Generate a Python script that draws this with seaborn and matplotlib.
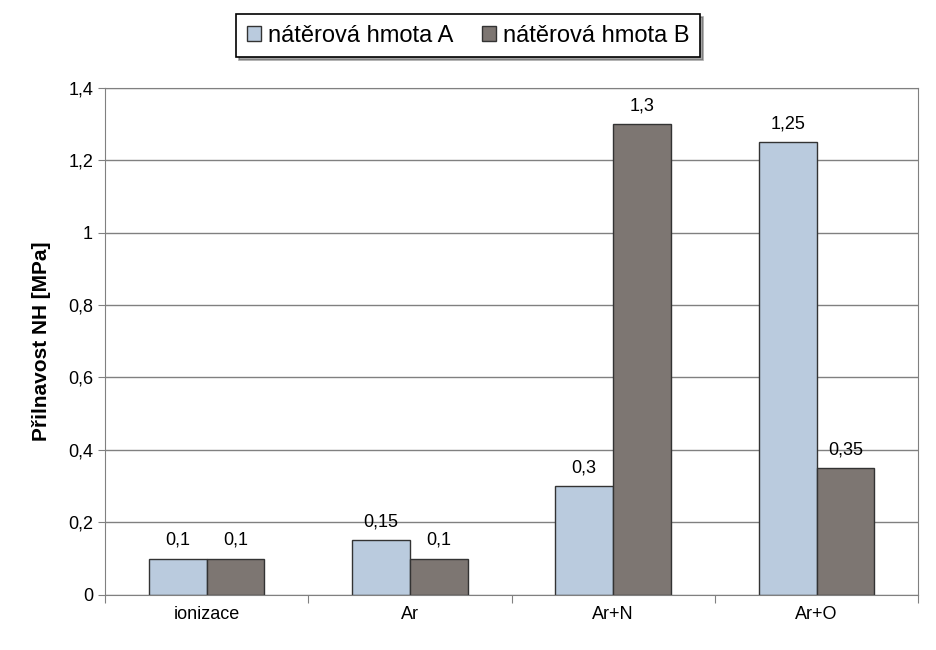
import matplotlib
matplotlib.use("Agg")
import matplotlib.pyplot as plt
import seaborn as sns
import pandas as pd
from matplotlib.ticker import FuncFormatter, FixedLocator

categories = ["ionizace", "Ar", "Ar+N", "Ar+O"]
series_a = [0.1, 0.15, 0.3, 1.25]
series_b = [0.1, 0.1, 1.3, 0.35]
names = ["nátěrová hmota A", "nátěrová hmota B"]

df = pd.DataFrame({
    "cat": categories * 2,
    "val": series_a + series_b,
    "serie": [names[0]] * 4 + [names[1]] * 4,
})

plt.rcParams["font.family"] = "Liberation Sans"
fig = plt.figure(figsize=(9.36, 6.5), dpi=100)
ax = fig.add_axes([0.112, 0.085, 0.869, 0.78])

ax.set_axisbelow(True)
ax.yaxis.grid(True, color="#808080", linewidth=1)
sns.barplot(data=df, x="cat", y="val", hue="serie", ax=ax, width=0.57,
            palette=["#b4cae4", "#7f7570"], edgecolor="#333333", linewidth=1,
            legend=True)

fmt = lambda v: f"{v:g}".replace(".", ",")
for cont in ax.containers:
    ax.bar_label(cont, labels=[fmt(v) for v in cont.datavalues], padding=7, fontsize=13)

ax.set_ylim(0, 1.4)
ax.set_yticks([i * 0.2 for i in range(8)])
ax.yaxis.set_major_formatter(FuncFormatter(lambda v, p: fmt(round(v, 1))))
ax.set_xlim(-0.5, 3.5)
ax.xaxis.set_major_locator(FixedLocator([-0.5, 0.5, 1.5, 2.5, 3.5]))
ax.set_xticklabels([])
ax.set_xticks(range(4), minor=True)
ax.set_xticklabels(categories, minor=True)
ax.tick_params(axis="x", which="minor", length=0, labelsize=13, pad=8)
ax.tick_params(axis="x", which="major", length=6, color="#808080")
ax.tick_params(axis="y", labelsize=13, length=5, color="#808080")
ax.set_xlabel("")
ax.set_ylabel("Přilnavost NH [MPa]", fontsize=15, fontweight="bold", labelpad=12)
for s in ax.spines.values():
    s.set_color("#808080")

ax.get_legend().remove()
h, l = ax.get_legend_handles_labels()
leg = fig.legend(h, l, loc="center", bbox_to_anchor=(0.5, 0.945), ncol=2,
                 fontsize=17, frameon=True, fancybox=False, shadow=True,
                 edgecolor="black", handlelength=0.6, handleheight=0.6,
                 handletextpad=0.3, columnspacing=1.2, borderpad=0.45,
                 borderaxespad=0)
leg.get_frame().set_linewidth(1.2)
fig.savefig("out.png", dpi=100)
